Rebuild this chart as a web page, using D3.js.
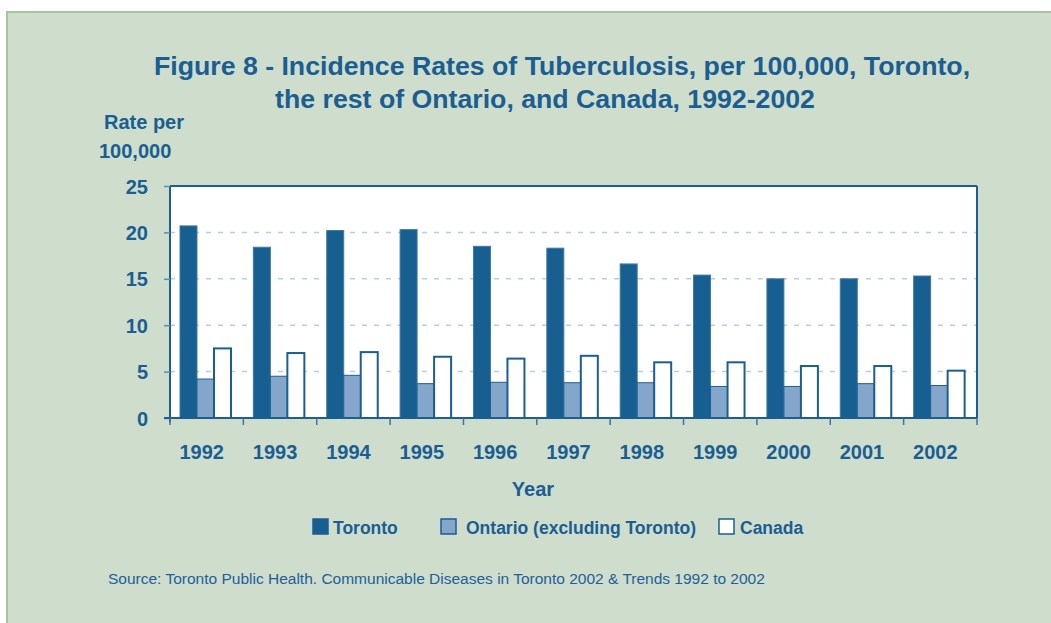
<!DOCTYPE html>
<html>
<head>
<meta charset="utf-8">
<script src="https://cdn.jsdelivr.net/npm/d3@7"></script>
<style>
  body { margin: 0; background: #fff; }
  text { font-family: "Liberation Sans", Arial, sans-serif; fill: #1b5e92; }
  .bold { font-weight: bold; }
</style>
</head>
<body>
<div class="chart"></div>
<script>
// Data
var years = ["1992", "1993", "1994", "1995", "1996", "1997", "1998", "1999", "2000", "2001", "2002"];
var toronto = [20.7, 18.4, 20.2, 20.3, 18.5, 18.3, 16.6, 15.4, 15.0, 15.0, 15.3];
var ontario = [4.2, 4.5, 4.6, 3.7, 3.85, 3.8, 3.8, 3.4, 3.4, 3.7, 3.5];
var canada = [7.5, 7.0, 7.1, 6.6, 6.4, 6.7, 6.0, 6.0, 5.6, 5.6, 5.1];
var seriesNames = ["Toronto", "Ontario (excluding Toronto)", "Canada"];
var yTicks = [0, 5, 10, 15, 20, 25];

var svgWidth = 1051;
var svgHeight = 623;

var margin = { top: 186, right: 74, bottom: 205, left: 170 };
var width = svgWidth - margin.left - margin.right;
var height = svgHeight - margin.top - margin.bottom;

var fills = ["#175e91", "#85a6cb", "#ffffff"];
var blue = "#1b5e92";

var svg = d3.select(".chart").append("svg")
  .attr("width", svgWidth)
  .attr("height", svgHeight);

// background panel
svg.append("rect")
  .attr("x", 7).attr("y", 12)
  .attr("width", svgWidth).attr("height", svgHeight)
  .attr("fill", "#cfddcc")
  .attr("stroke", "#a7c49f")
  .attr("stroke-width", 2);

// title
svg.append("text")
  .attr("class", "bold")
  .attr("x", 562).attr("y", 75)
  .attr("text-anchor", "middle")
  .style("font-size", "26.7px")
  .text("Figure 8 - Incidence Rates of Tuberculosis, per 100,000, Toronto,");
svg.append("text")
  .attr("class", "bold")
  .attr("x", 545).attr("y", 108)
  .attr("text-anchor", "middle")
  .style("font-size", "26.7px")
  .text("the rest of Ontario, and Canada, 1992-2002");

// y label
svg.append("text").attr("class", "bold")
  .attr("x", 104).attr("y", 129)
  .style("font-size", "20px")
  .text("Rate per");
svg.append("text").attr("class", "bold")
  .attr("x", 99).attr("y", 158)
  .style("font-size", "20px")
  .text("100,000");

var chartGroup = svg.append("g")
  .attr("transform", `translate(${margin.left}, ${margin.top})`);

var xScale = d3.scaleBand()
  .domain(years)
  .range([0, width]);

var yScale = d3.scaleLinear()
  .domain([0, 25])
  .range([height, 0]);

// plot background
chartGroup.append("rect")
  .attr("width", width).attr("height", height)
  .attr("fill", "#fff");

// dashed grid
chartGroup.selectAll(".grid")
  .data(yTicks.filter(d => d > 0 && d < 25))
  .enter()
  .append("line")
  .attr("x1", 0).attr("x2", width)
  .attr("y1", d => yScale(d)).attr("y2", d => yScale(d))
  .attr("stroke", "#b9cde2")
  .attr("stroke-width", 1.5)
  .attr("stroke-dasharray", "5,7");

// bars
var barW = 17;
var offset = 10;
var series = [toronto, ontario, canada];
series.forEach(function(vals, s) {
  chartGroup.selectAll(".bar" + s)
    .data(years)
    .enter()
    .append("rect")
    .attr("x", d => xScale(d) + offset + s * barW)
    .attr("y", (d, i) => yScale(vals[i]))
    .attr("width", barW)
    .attr("height", (d, i) => height - yScale(vals[i]))
    .attr("fill", fills[s])
    .attr("stroke", s == 0 ? "#3f7aa6" : blue)
    .attr("stroke-width", s == 2 ? 2 : 1);
});

// frame: top and right
chartGroup.append("line")
  .attr("x1", 0).attr("x2", width).attr("y1", 0).attr("y2", 0)
  .attr("stroke", blue).attr("stroke-width", 2);
chartGroup.append("line")
  .attr("x1", width).attr("x2", width).attr("y1", 0).attr("y2", height)
  .attr("stroke", blue).attr("stroke-width", 2);

// y axis
var leftAxis = d3.axisLeft(yScale).tickValues(yTicks).tickSize(6).tickPadding(16);
var yAxis = chartGroup.append("g").call(leftAxis);
yAxis.select(".domain").attr("stroke", blue).attr("stroke-width", 2).attr("d", `M0,0V${height + 4}`);
yAxis.selectAll(".tick line").attr("stroke", "#5d8db4").attr("stroke-width", 1.5);
yAxis.selectAll(".tick text")
  .attr("class", "bold")
  .style("font-size", "20px")
  .attr("dy", "0.35em")
  .style("fill", blue);

// x axis, ticks on band edges
var xAxis = chartGroup.append("g")
  .attr("transform", `translate(0, ${height})`);
xAxis.append("line")
  .attr("x1", -6).attr("x2", width)
  .attr("stroke", blue).attr("stroke-width", 2);
xAxis.selectAll(".xtick")
  .data(years.concat(["end"]))
  .enter()
  .append("line")
  .attr("x1", (d, i) => i < years.length ? xScale(d) : width)
  .attr("x2", (d, i) => i < years.length ? xScale(d) : width)
  .attr("y1", 0).attr("y2", 7)
  .attr("stroke", "#3f73a0").attr("stroke-width", 1.5);
xAxis.selectAll(".xlabel")
  .data(years)
  .enter()
  .append("text")
  .attr("class", "bold")
  .attr("x", d => xScale(d) + xScale.bandwidth() / 2 - 5)
  .attr("y", 41)
  .attr("text-anchor", "middle")
  .style("font-size", "20px")
  .text(d => d);

// x axis title
svg.append("text").attr("class", "bold")
  .attr("x", 533).attr("y", 496)
  .attr("text-anchor", "middle")
  .style("font-size", "20px")
  .text("Year");

// legend
var legendX = [313, 441, 719];
var legendTextX = [333, 466, 740];
var legend = svg.append("g");
seriesNames.forEach(function(name, i) {
  legend.append("rect")
    .attr("x", legendX[i]).attr("y", 519)
    .attr("width", 15).attr("height", 15)
    .attr("fill", fills[i])
    .attr("stroke", blue)
    .attr("stroke-width", 1.5);
  legend.append("text").attr("class", "bold")
    .attr("x", legendTextX[i]).attr("y", 534)
    .style("font-size", "17.5px")
    .text(name);
});

// source
svg.append("text")
  .attr("x", 108).attr("y", 584)
  .style("font-size", "15.5px")
  .style("fill", "#22609a")
  .text("Source: Toronto Public Health. Communicable Diseases in Toronto 2002 & Trends 1992 to 2002");
</script>
</body>
</html>
